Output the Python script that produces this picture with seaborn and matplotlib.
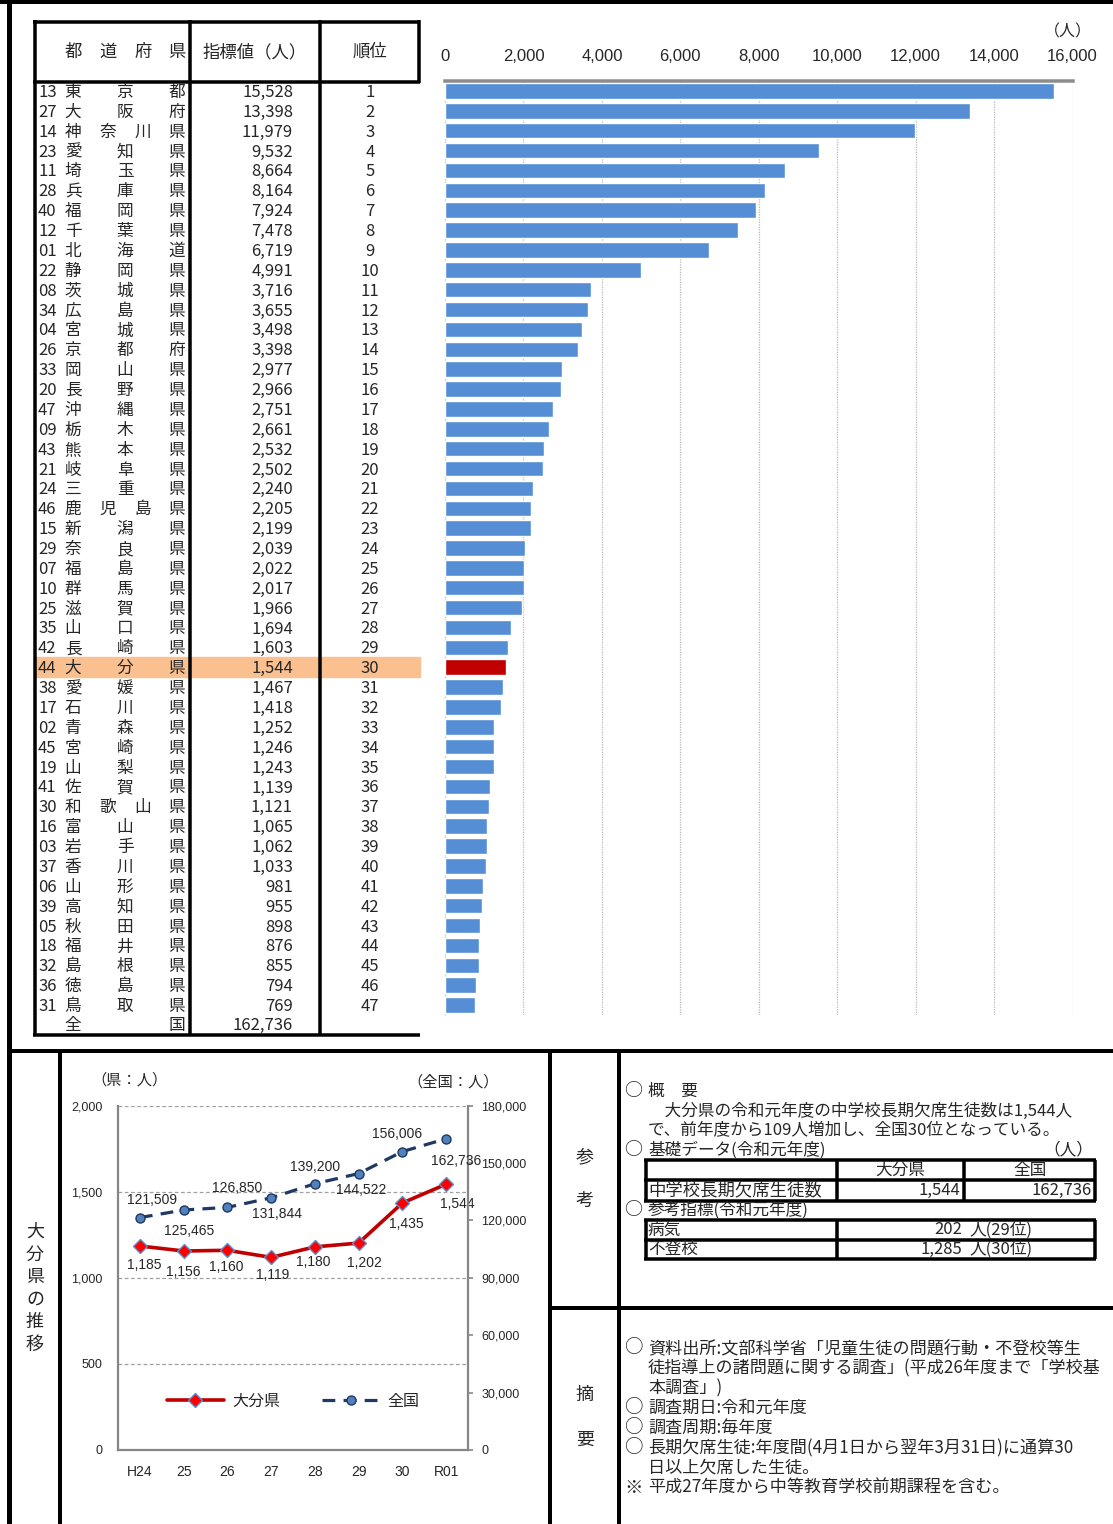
import numpy as np
import pandas as pd
import matplotlib
matplotlib.use('Agg')
import matplotlib.pyplot as plt
from matplotlib.patches import Rectangle
from matplotlib.ticker import FuncFormatter, FixedLocator
import seaborn as sns

# ---------------- data ----------------
codes = ['13', '27', '14', '23', '11', '28', '40', '12', '01', '22', '08', '34', '04', '26', '33', '20',
         '47', '09', '43', '21', '24', '46', '15', '29', '07', '10', '25', '35', '42', '44', '38', '17',
         '02', '45', '19', '41', '30', '16', '03', '37', '06', '39', '05', '18', '32', '36', '31']
names = ['東京都', '大阪府', '神奈川県', '愛知県', '埼玉県', '兵庫県', '福岡県', '千葉県', '北海道', '静岡県',
         '茨城県', '広島県', '宮城県', '京都府', '岡山県', '長野県', '沖縄県', '栃木県', '熊本県', '岐阜県',
         '三重県', '鹿児島県', '新潟県', '奈良県', '福島県', '群馬県', '滋賀県', '山口県', '長崎県', '大分県',
         '愛媛県', '石川県', '青森県', '宮崎県', '山梨県', '佐賀県', '和歌山県', '富山県', '岩手県', '香川県',
         '山形県', '高知県', '秋田県', '福井県', '島根県', '徳島県', '鳥取県']
values = [15528, 13398, 11979, 9532, 8664, 8164, 7924, 7478, 6719, 4991, 3716, 3655, 3498, 3398, 2977, 2966,
          2751, 2661, 2532, 2502, 2240, 2205, 2199, 2039, 2022, 2017, 1966, 1694, 1603, 1544, 1467, 1418,
          1252, 1246, 1243, 1139, 1121, 1065, 1062, 1033, 981, 955, 898, 876, 855, 794, 769]
ranks = [1, 2, 3, 4, 5, 6, 7, 8, 9, 10, 11, 12, 13, 14, 15, 16, 17, 18, 19, 20, 21, 22, 23, 24,
         25, 26, 27, 28, 29, 30, 31, 32, 33, 34, 35, 36, 37, 38, 39, 40, 41, 42, 43, 44, 45, 46, 47]
total_name = '全国'
total_value = 162736
highlight = '大分県'
bar_ticks = [0, 2000, 4000, 6000, 8000, 10000, 12000, 14000, 16000]

years = ['H24', '25', '26', '27', '28', '29', '30', 'R01']
oita_trend = [1185, 1156, 1160, 1119, 1180, 1202, 1435, 1544]
national_trend = [121509, 125465, 126850, 131844, 139200, 144522, 156006, 162736]

# ---------------- style ----------------
sns.set_style('white')
CJK = ['Noto Sans CJK JP', 'DejaVu Sans']
LAT = ['Liberation Sans', 'DejaVu Sans']
plt.rcParams['font.family'] = CJK

W, H = 1113, 1524
fig = plt.figure(figsize=(W / 100, H / 100), dpi=100)
bg = fig.add_axes([0, 0, 1, 1])
bg.set_xlim(0, W)
bg.set_ylim(H, 0)
bg.axis('off')


def pt(v):
    return v * 0.72


def line(x0, y0, x1, y1, w=3.5, c='black'):
    bg.plot([x0, x1], [y0, y1], color=c, lw=pt(w), solid_capstyle='butt', zorder=3)


def txt(x, y, s, size=12, ha='left', va='center', fam=CJK, **kw):
    bg.text(x, y, s, fontsize=size, ha=ha, va=va, family=fam, **kw)


def bullet(y, s, mark='○', size=12):
    txt(624, y, mark, size=size + 1)
    txt(648, y, s, size=size)


# ---------------- outer frame ----------------
line(8.5, 0, 8.5, H, w=5)
line(0, 2, W, 2, w=4)
line(8, 1051, W, 1051, w=4)
line(60, 1051, 60, H, w=4)
line(550, 1051, 550, H, w=4)
line(619, 1051, 619, H, w=4)
line(550, 1308, W, 1308, w=4)

# ---------------- ranking table ----------------
row_top, row_bot = 81, 1015
pitch = (row_bot - row_top) / len(values)


def row_y(i):
    return row_top + (i + 0.5) * pitch


hi = names.index(highlight)
bg.add_patch(Rectangle((36, row_top + hi * pitch), 384, pitch, color='#FAC090', zorder=1))

line(34.5, 20, 34.5, 1036)
line(189.5, 20, 189.5, 1036)
line(320, 20, 320, 1036)
line(418.5, 20, 418.5, 83)
line(33, 21.5, 420, 21.5)
line(33, 81.5, 420, 81.5)
line(33, 1034.5, 420, 1034.5)

for ch, x in zip('都道府県', [73, 108, 143, 177]):
    txt(x, 52, ch, size=12.5, ha='center')
txt(255, 52, '指標値（人）', size=12.5, ha='center')
txt(370, 52, '順位', size=12.5, ha='center')

pos3 = [73, 125, 177]
pos4 = [73, 108, 143, 177]
for i, (c, n, v, r) in enumerate(zip(codes, names, values, ranks)):
    y = row_y(i) + 1.5
    txt(38, y, c, size=12)
    for ch, x in zip(n, pos3 if len(n) == 3 else pos4):
        txt(x, y, ch, size=12, ha='center')
    txt(293, y, f'{v:,}', size=12, ha='right')
    txt(370, y, str(r), size=12, ha='center')
yt = row_y(len(values)) + 1
txt(73, yt, total_name[0], size=12, ha='center')
txt(177, yt, total_name[1], size=12, ha='center')
txt(293, yt, f'{total_value:,}', size=12, ha='right')

# ---------------- bar chart ----------------
axb = fig.add_axes([445 / W, 1 - row_bot / H, (1072.5 - 445) / W, (row_bot - row_top) / H])
axb.set_facecolor('none')
keys = [c + n for c, n in zip(codes, names)]
df = pd.DataFrame({'key': keys, 'value': values})
colors = ['#C00000' if n == highlight else '#558ED5' for n in names]
sns.barplot(data=df, x='value', y='key', hue='key', palette=colors, legend=False,
            orient='h', width=0.78, saturation=1, ax=axb, zorder=2)
axb.set_xlim(0, 16000)
axb.set_ylim(len(values) - 0.5, -0.5)
axb.set_xlabel('')
axb.set_ylabel('')
axb.set_yticks([])
axb.xaxis.set_major_locator(FixedLocator(bar_ticks))
axb.xaxis.set_major_formatter(FuncFormatter(lambda v, p: f'{int(v):,}'))
axb.xaxis.tick_top()
axb.tick_params(axis='x', length=0, pad=12, labelsize=12)
for lab in axb.get_xticklabels():
    lab.set_family(LAT)
axb.grid(axis='x', color='#B8B8B8', linestyle=(0, (1, 1)), lw=0.9)
axb.set_axisbelow(True)
for s in ['left', 'right', 'bottom']:
    axb.spines[s].set_visible(False)
axb.spines['top'].set_color('#8C8C8C')
axb.spines['top'].set_linewidth(pt(3.5))
txt(1068, 32, '（人）', size=11.5, ha='center')

# ---------------- trend chart ----------------
x0, x1, ytop, ybot = 118, 468, 1105.7, 1450
axl = fig.add_axes([x0 / W, 1 - ybot / H, (x1 - x0) / W, (ybot - ytop) / H])
axl.set_facecolor('none')
ax2 = axl.twinx()
xpos = np.arange(len(years))

sns.lineplot(x=xpos, y=oita_trend, ax=axl, color='#C00000', lw=2.6, marker='D', markersize=7.5,
             markerfacecolor='#FF0000', markeredgecolor='#5B8FD0', markeredgewidth=1.0, zorder=5)
sns.lineplot(x=xpos, y=national_trend, ax=ax2, color='#1F3864', lw=2.3, linestyle=(0, (4, 2.6)),
             marker='o', markersize=6.5, markerfacecolor='#4F81BD', markeredgecolor='#1F3864',
             markeredgewidth=1.0, zorder=5)

axl.set_xlim(-0.5, len(years) - 0.5)
axl.set_ylim(0, 2000)
ax2.set_ylim(0, 180000)
axl.set_yticks([0, 500, 1000, 1500, 2000])
ax2.set_yticks([0, 30000, 60000, 90000, 120000, 150000, 180000])
fmt = FuncFormatter(lambda v, p: f'{int(v):,}')
axl.yaxis.set_major_formatter(fmt)
ax2.yaxis.set_major_formatter(fmt)
axl.set_xticks(xpos)
axl.set_xticklabels(years)
axl.set_xticks(xpos[:-1] + 0.5, minor=True)
axl.tick_params(axis='x', which='major', length=0, pad=11, labelsize=10)
axl.tick_params(axis='x', which='minor', length=3.5, direction='in', color='#868686', width=1.2)
axl.tick_params(axis='y', length=0, pad=11, labelsize=9)
ax2.tick_params(axis='y', length=3.5, direction='out', color='#868686', width=1.2, pad=6, labelsize=9)
for lab in axl.get_xticklabels() + axl.get_yticklabels() + ax2.get_yticklabels():
    lab.set_family(LAT)
axl.set_xlabel('')
axl.set_ylabel('')
ax2.set_ylabel('')
axl.grid(axis='y', color='#A0A0A0', linestyle=(0, (3, 2)), lw=0.9)
axl.grid(axis='x', visible=False)
ax2.grid(False)
for a in (axl, ax2):
    a.spines['top'].set_visible(False)
axl.spines['right'].set_visible(False)
ax2.spines['left'].set_visible(False)
ax2.spines['bottom'].set_visible(False)
for a, s in [(axl, 'left'), (axl, 'bottom'), (ax2, 'right')]:
    a.spines[s].set_visible(True)
    a.spines[s].set_color('#868686')
    a.spines[s].set_linewidth(1.6)

oita_off = [(3, -14), (0, -15), (-1, -12), (1, -13), (-1, -11), (4, -14), (3, -15), (8, -14)]
nat_off = [(9, 13), (4, -15), (7, 14), (4, -12), (0, 12), (2, -12), (-4, 13), (7, -16)]
for xi, v, o in zip(xpos, oita_trend, oita_off):
    axl.annotate(f'{v:,}', (xi, v), xytext=o, textcoords='offset points', ha='center', va='center',
                 fontsize=10, family=LAT, zorder=6)
for xi, v, o in zip(xpos, national_trend, nat_off):
    ax2.annotate(f'{v:,}', (xi, v), xytext=o, textcoords='offset points', ha='center', va='center',
                 fontsize=10, family=LAT, zorder=6)

h1 = axl.get_lines()[0]
h2 = ax2.get_lines()[0]
leg = ax2.legend([h1, h2], ['大分県', '全国'], loc='center', bbox_to_anchor=(0.5, 0.142), ncol=2,
                 frameon=False, fontsize=11.5, handlelength=3.6, columnspacing=2.6, handletextpad=0.5)
for t in leg.get_texts():
    t.set_family(CJK)

txt(130, 1080, '（県：人）', size=11, ha='center')
txt(453, 1082, '（全国：人）', size=11, ha='center')

# vertical label
for k, ch in enumerate('大分県の推移'):
    txt(35, 1232 + k * 22.6, ch, size=13, ha='center')

# side labels
txt(585, 1157, '参', size=13, ha='center')
txt(585, 1201, '考', size=13, ha='center')
txt(585, 1395, '摘', size=13, ha='center')
txt(585, 1440, '要', size=13, ha='center')

# ---------------- info: 参考 ----------------
bullet(1091, '概　要')
txt(648, 1111, '　大分県の令和元年度の中学校長期欠席生徒数は1,544人', size=12)
txt(648, 1131, 'で、前年度から109人増加し、全国30位となっている。', size=12)
bullet(1150, '基礎データ(令和元年度)')
txt(1093, 1150, '（人）', size=12, ha='right')

# table 1
line(644, 1160, 1096, 1160)
line(644, 1180, 1096, 1180)
line(644, 1201, 1096, 1201)
line(645.5, 1160, 645.5, 1201)
line(836.5, 1160, 836.5, 1201)
line(964, 1160, 964, 1201)
line(1095, 1160, 1095, 1201)
txt(900, 1170, '大分県', size=12, ha='center')
txt(1030, 1170, '全国', size=12, ha='center')
txt(648, 1190.5, '中学校長期欠席生徒数', size=12.5)
txt(960, 1190.5, f'{oita_trend[-1]:,}', size=12, ha='right')
txt(1092, 1190.5, f'{national_trend[-1]:,}', size=12, ha='right')

bullet(1210, '参考指標(令和元年度)')
# table 2
line(644, 1220, 1096, 1220)
line(644, 1240, 1096, 1240)
line(644, 1259, 1096, 1259)
line(645.5, 1220, 645.5, 1259)
line(836.5, 1220, 836.5, 1259)
line(1095, 1220, 1095, 1259)
txt(648, 1230, '病気', size=12)
txt(648, 1249.5, '不登校', size=12)
txt(962, 1230, '202', size=12, ha='right')
txt(969, 1230, '人(29位)', size=12)
txt(962, 1249.5, '1,285', size=12, ha='right')
txt(969, 1249.5, '人(30位)', size=12)

# ---------------- info: 摘要 ----------------
notes = [
    ('○', '資料出所:文部科学省「児童生徒の問題行動・不登校等生'),
    ('', '徒指導上の諸問題に関する調査」(平成26年度まで「学校基'),
    ('', '本調査」)'),
    ('○', '調査期日:令和元年度'),
    ('○', '調査周期:毎年度'),
    ('○', '長期欠席生徒:年度間(4月1日から翌年3月31日)に通算30'),
    ('', '日以上欠席した生徒。'),
    ('※', '平成27年度から中等教育学校前期課程を含む。'),
]
for k, (m, s) in enumerate(notes):
    y = 1348 + k * 20
    if m:
        bullet(y, s, mark=m, size=12.3)
    else:
        txt(648, y, s, size=12.3)

fig.savefig('out.png', dpi=100)
